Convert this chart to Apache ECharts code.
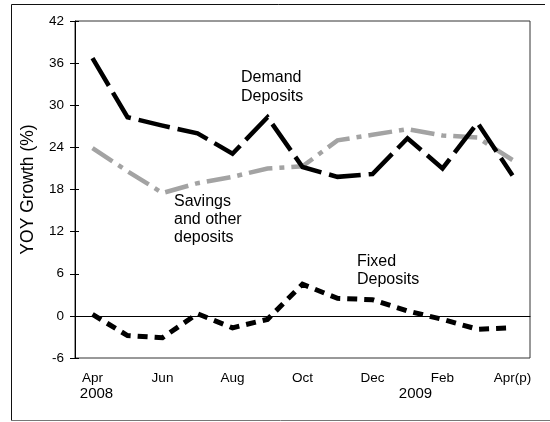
<!DOCTYPE html>
<html><head><meta charset="utf-8">
<script src="https://cdn.jsdelivr.net/npm/echarts@6/dist/echarts.min.js"></script>
<style>html,body{margin:0;padding:0;background:#fff}#c{width:550px;height:422px}</style>
</head><body><div id="c"></div>
<script>
const months = ['Apr','May','Jun','Jul','Aug','Sep','Oct','Nov','Dec','Jan','Feb','Mar','Apr(p)'];
const tickLabels = ['Apr','','Jun','','Aug','','Oct','','Dec','','Feb','','Apr(p)'];
const yearLabels = ['2008','','','','','','','','','2009','','',''];
const demand = [36.7,28.3,27.1,26.0,23.1,28.3,21.2,19.8,20.2,25.3,21.0,27.5,20.0];
const savings = [23.9,20.6,17.5,18.9,19.8,21.0,21.3,25.0,25.8,26.6,25.7,25.4,22.2];
const fixed = [0.2,-2.8,-3.1,0.3,-1.7,-0.5,4.5,2.5,2.3,0.7,-0.5,-1.9,-1.7];
const yMin = -6, yMax = 42, yStep = 6;
const yName = 'YOY Growth (%)';

const FONT = "'Liberation Sans', Arial, sans-serif";
const chart = echarts.init(document.getElementById('c'), null, {renderer:'canvas'});
chart.setOption({
  animation:false,
  backgroundColor:'#fff',
  textStyle:{fontFamily:FONT},
  grid:{left:75,right:20,top:21,bottom:64,show:true,borderColor:'#333',borderWidth:1},
  xAxis:[{
    type:'category', data:months, boundaryGap:true, position:'bottom',
    axisLine:{lineStyle:{color:'#000',width:1}},
    axisTick:{alignWithLabel:true,interval:0,length:5,lineStyle:{color:'#000'}},
    axisLabel:{interval:0,margin:13,color:'#000',
      formatter:function(v,i){
        let s = tickLabels[i] ? '{m|'+tickLabels[i]+'}' : '{m| }';
        if (yearLabels[i]) s += '\n{' + (i === 0 ? 'y0' : 'y') + '|'+yearLabels[i]+'}';
        return s;
      },
      rich:{m:{fontSize:13.5,lineHeight:15,fontFamily:FONT,color:'#000'},
            y0:{fontSize:15,lineHeight:16,fontFamily:FONT,color:'#000',padding:[0,0,0,8]},
            y:{fontSize:15,lineHeight:16,fontFamily:FONT,color:'#000',padding:[0,0,0,16]}}},
    splitLine:{show:false}
  },{
    type:'category', data:months, boundaryGap:true, position:'top', offset:-337,
    axisLine:{show:false},
    axisTick:{alignWithLabel:true,interval:0,length:5,lineStyle:{color:'#000'}},
    axisLabel:{show:false}, splitLine:{show:false}
  }],
  yAxis:[{
    type:'value', min:yMin, max:yMax, interval:yStep, position:'left',
    name:yName, nameLocation:'middle', nameGap:38, nameRotate:90,
    nameTextStyle:{fontSize:17.5,color:'#000',fontFamily:FONT},
    axisLine:{show:true,lineStyle:{color:'#000',width:1}},
    axisTick:{show:true,length:5,lineStyle:{color:'#000'}},
    axisLabel:{color:'#000',fontSize:13.5,margin:11,fontFamily:FONT},
    splitLine:{show:false}
  },{
    type:'value', min:yMin, max:yMax, interval:yStep, position:'right', offset:-455,
    axisLine:{show:false},
    axisTick:{show:true,length:4,lineStyle:{color:'#000'}},
    axisLabel:{show:false}, splitLine:{show:false}
  }],
  series:[{
    name:'Fixed Deposits', type:'line', data:fixed, symbol:'none',
    lineStyle:{color:'#000',width:5,type:[10,7],cap:'butt',join:'miter'},
    markLine:{silent:true,symbol:'none',label:{show:false},
      lineStyle:{color:'#000',width:1,type:'solid'},data:[{yAxis:0}]},
    z:3
  },{
    name:'Savings and other deposits', type:'line', data:savings, symbol:'none',
    lineStyle:{color:'#a3a3a3',width:4.5,type:[24,7,5,7],cap:'butt',join:'miter'},
    z:2
  },{
    name:'Demand Deposits', type:'line', data:demand, symbol:'none',
    lineStyle:{color:'#000',width:4.5,type:[32,8],cap:'butt',join:'miter'},
    z:4
  }],
  graphic:[
    {type:'polyline',silent:true,shape:{points:[[545,4.5],[11.5,4.5],[11.5,420.5]]},style:{stroke:'#111',lineWidth:1,fill:null}},
    {type:'line',silent:true,shape:{x1:11,y1:420.5,x2:550,y2:420.5},style:{stroke:'#777',lineWidth:1}},
    {type:'text',left:241,top:68,style:{text:'Demand\nDeposits',font:'16px '+FONT,lineHeight:19,fill:'#000'}},
    {type:'text',left:174,top:193,style:{text:'Savings\nand other\ndeposits',font:'16px '+FONT,lineHeight:18,fill:'#000'}},
    {type:'text',left:357,top:253,style:{text:'Fixed\nDeposits',font:'16px '+FONT,lineHeight:18,fill:'#000'}}
  ]
});
</script></body></html>
